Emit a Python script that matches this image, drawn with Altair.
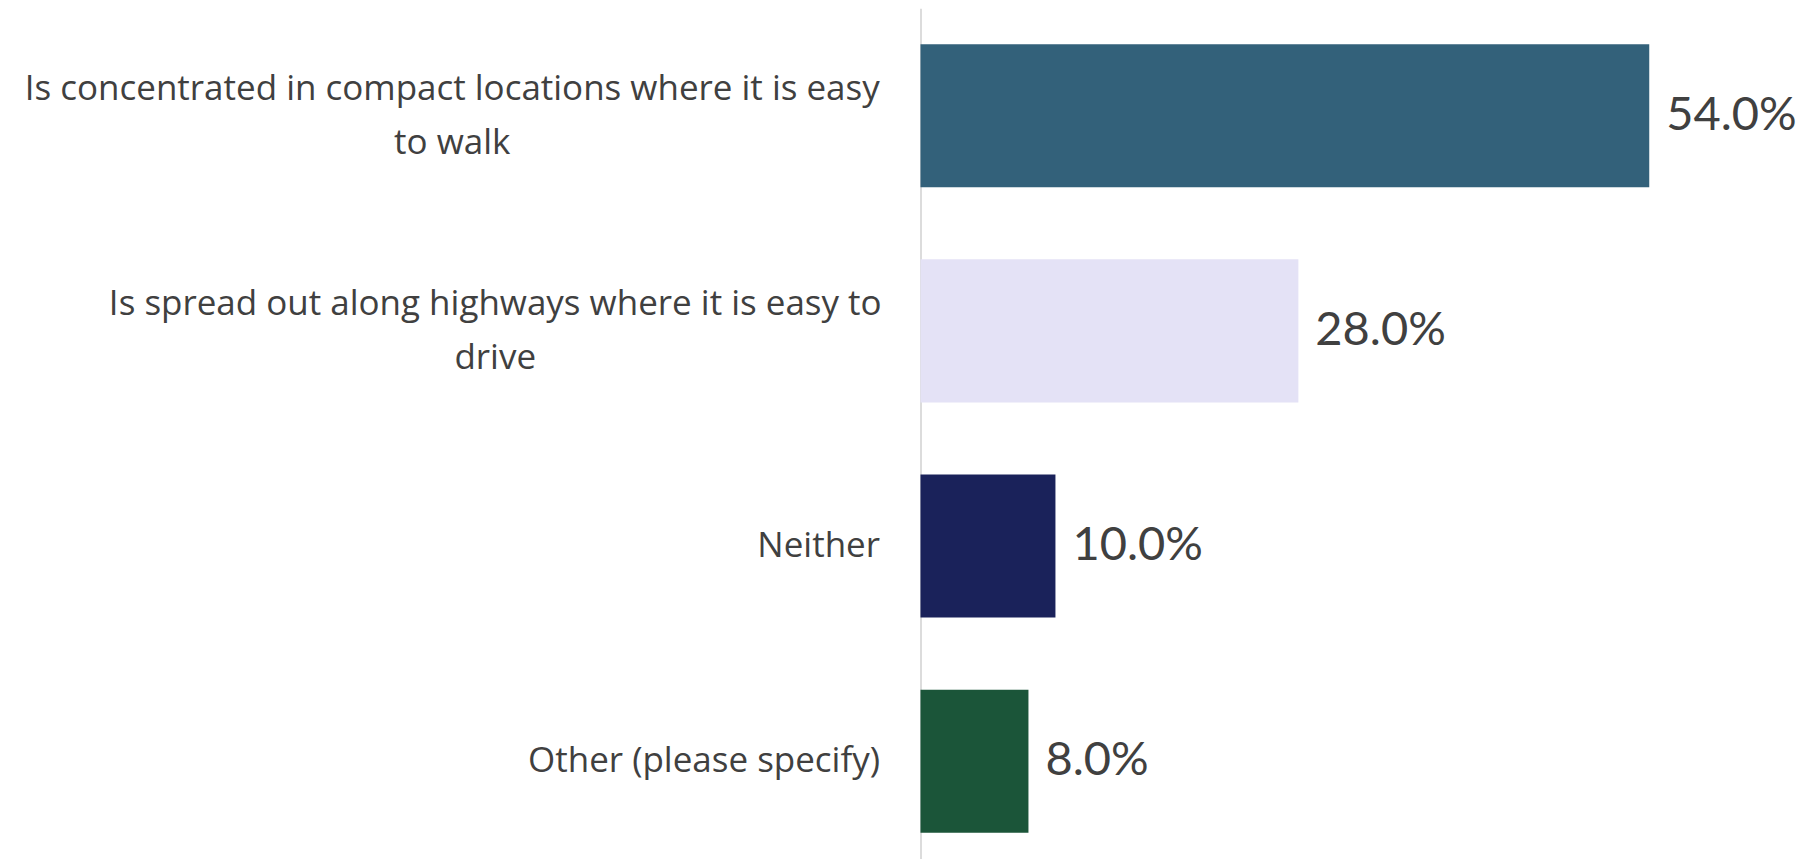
import altair as alt
import pandas as pd

categories = [
    "Is concentrated in compact locations where it is easy to walk",
    "Is spread out along highways where it is easy to drive",
    "Neither",
    "Other (please specify)",
]
label_lines = [
    ["Is concentrated in compact locations where it is easy", "to walk"],
    ["Is spread out along highways where it is easy to", "drive"],
    ["Neither"],
    ["Other (please specify)"],
]
# half width of each wrapped label block (px), used to centre lines in the block
half_block = [428, 385, 0, 0]
values = [54.0, 28.0, 10.0, 8.0]
colors = ["#33617a", "#e4e2f6", "#1a225a", "#1b5539"]

df = pd.DataFrame({"category": categories, "value": values})

expr = "datum.label"
for cat, lines in reversed(list(zip(categories, label_lines))):
    arr = "[" + ",".join("'" + l.replace("'", "\\'") + "'" for l in lines) + "]"
    expr = f"datum.label == '{cat}' ? {arr} : ({expr})"

multi = [c for c, l in zip(categories, label_lines) if len(l) > 1]
multi_test = " || ".join(f"datum.value == '{c}'" for c in multi)

FONT = "Open Sans"
LINE_H = 54
PAD = 41

y = alt.Y(
    "category:N",
    sort=categories,
    title=None,
    scale=alt.Scale(paddingInner=0.335, paddingOuter=0.1438, align=0.58),
    axis=alt.Axis(
        labelExpr=expr,
        labelFont=FONT,
        labelFontSize=35,
        labelColor="#404040",
        labelLineHeight=LINE_H,
        labelPadding={"condition": [
            {"test": f"datum.value == '{c}'", "value": PAD + hb}
            for c, hb in zip(categories, half_block) if hb > 0
        ], "value": PAD},
        labelAlign={"condition": {"test": multi_test, "value": "center"}, "value": "right"},
        labelOffset={"condition": {"test": multi_test, "value": -LINE_H / 2}, "value": 0},
        labelLimit=1000,
        ticks=False,
        domainColor="#dcdcdc",
        domainWidth=2,
        minExtent=913,
        maxExtent=913,
    ),
)
x = alt.X("value:Q", title=None, axis=None, scale=alt.Scale(domain=[0, 64.8], nice=False))

bars = alt.Chart(df).mark_bar().encode(
    x=x,
    y=y,
    color=alt.Color("category:N", scale=alt.Scale(domain=categories, range=colors), legend=None),
)
text = (
    alt.Chart(df)
    .transform_calculate(lab="format(datum.value, '.1f') + '%'")
    .mark_text(align="left", baseline="middle", dx=17, font="Lato", fontSize=47, color="#404040")
    .encode(x=x, y=alt.Y("category:N", sort=categories), text="lab:N")
)

chart = (
    alt.layer(bars, text)
    .properties(width=875, height=851, padding=0, background="white")
    .configure_view(strokeWidth=0, stroke="transparent")
)

chart.save("out.html", embed_options={"renderer": "svg", "actions": False})
